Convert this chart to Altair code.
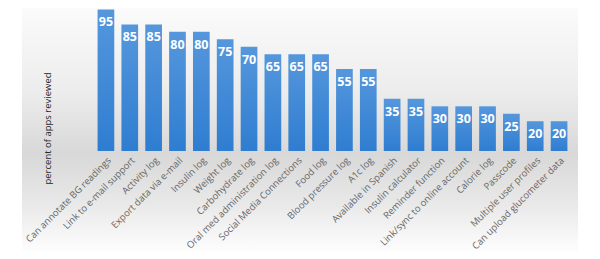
import altair as alt
import pandas as pd

categories = [
    "Can annotate BG readings", "Link to e-mail support", "Activity log",
    "Export data via e-mail", "Insulin log", "Weight log", "Carbohydrate log",
    "Oral med administration log", "Social Media Connections", "Food log",
    "Blood pressure log", "A1c log", "Available in Spanish", "Insulin calculator",
    "Reminder function", "Link/sync to online account", "Calorie log", "Passcode",
    "Multiple user profiles", "Can upload glucometer data",
]
values = [95, 85, 85, 80, 80, 75, 70, 65, 65, 65, 55, 55, 35, 35, 30, 30, 30, 25, 20, 20]

df = pd.DataFrame({"feature": categories, "pct": values})

W, H = 477, 143

bg = alt.Chart(pd.DataFrame({"a": [0]})).mark_rect(
    color=alt.Gradient(
        gradient="linear", x1=0, x2=0, y1=0, y2=1,
        stops=[
            alt.GradientStop(offset=0, color="#fbfbfb"),
            alt.GradientStop(offset=0.35, color="#ececec"),
            alt.GradientStop(offset=0.6, color="#d8d8d8"),
            alt.GradientStop(offset=0.8, color="#e8e8e8"),
            alt.GradientStop(offset=1, color="#fdfdfd"),
        ],
    )
).encode(x=alt.value(-72), x2=alt.value(484), y=alt.value(0), y2=alt.value(243))

xenc = alt.X("feature:N", sort=categories,
             scale=alt.Scale(paddingInner=0.3, paddingOuter=0.15),
             axis=alt.Axis(title=None, labelAngle=-45, labelOverlap=False,
                           labelFont="Open Sans", labelFontSize=9.5,
                           labelColor="#666666", ticks=False, domain=False,
                           labelPadding=4, zindex=2))
yenc = alt.Y("pct:Q", scale=alt.Scale(domain=[0, 96], nice=False),
             axis=alt.Axis(title="percent of apps reviewed", labels=False,
                           ticks=False, domain=False, grid=False,
                           titleX=-42, titleY=120, titleFont="Open Sans",
                           titleFontSize=9.5, titleFontWeight="normal",
                           titleColor="#262626", zindex=2))

bars = alt.Chart(df).mark_bar(
    color=alt.Gradient(
        gradient="linear", x1=0, x2=0, y1=0, y2=1,
        stops=[
            alt.GradientStop(offset=0, color="#5597dc"),
            alt.GradientStop(offset=1, color="#2f7dd1"),
        ],
    )
).encode(x=xenc, y=yenc)

labels = alt.Chart(df).mark_text(
    color="white", font="Open Sans", fontWeight="bold", fontSize=12.5,
    baseline="middle", dy=13
).encode(x=alt.X("feature:N", sort=categories), y="pct:Q", text="pct:Q")

chart = alt.layer(bg, bars, labels).properties(
    width=W, height=H,
    autosize=alt.AutoSizeParams(type="none"),
    padding={"left": 86, "top": 0, "right": 21, "bottom": 100},
).configure_view(stroke=None)

chart.save("out.html", embed_options={"renderer": "svg", "actions": False})
